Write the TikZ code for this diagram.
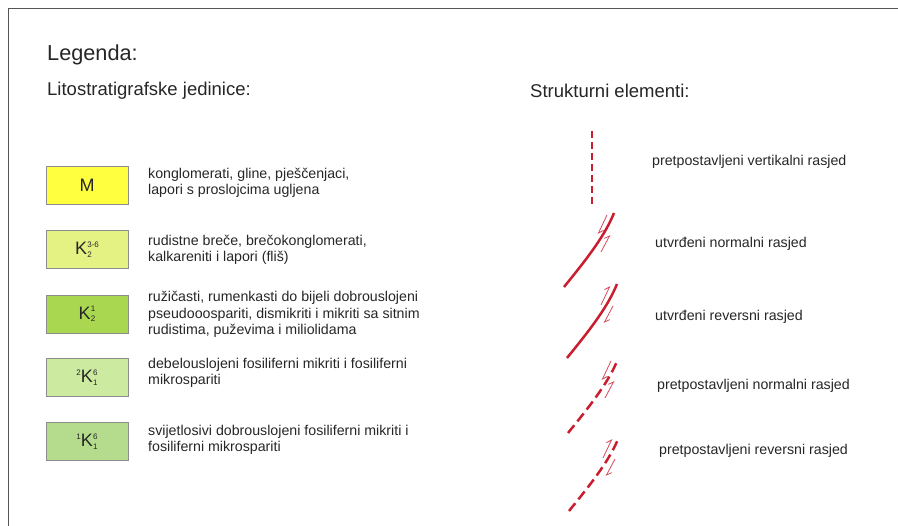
\documentclass[tikz,border=0pt]{standalone}
\usepackage{fontspec}
\setmainfont{Liberation Sans}
\usetikzlibrary{arrows.meta}
\definecolor{rasjedred}{RGB}{200,30,48}
\definecolor{okvir}{RGB}{85,85,85}
\definecolor{boxM}{RGB}{255,255,64}
\definecolor{boxKa}{RGB}{228,242,132}
\definecolor{boxKb}{RGB}{170,215,80}
\definecolor{boxKc}{RGB}{204,234,160}
\definecolor{boxKd}{RGB}{180,220,140}
% oznaka jedinice: lijevi indeks, K, gornji i donji indeks
\newcommand{\jedinica}[3]{%
  {\fontsize{8}{8}\selectfont\raisebox{7pt}{#1}}K\kern0.3pt%
  {\fontsize{8}{8}\selectfont\rlap{\raisebox{-2.5pt}{#3}}\raisebox{7.2pt}{#2}}}
% simbol rasjeda: #1 donja tocka, #2 stil linije, #3 i #4 smjer strelica
\newcommand{\rasjed}[4]{%
  \begin{scope}[shift={#1}]
    \draw[rasjed,#2] (0,0) .. controls (26,-32) and (41,-52) .. (50,-74);
    \draw[strelica,#3] (43,-72) -- (34,-53);
    \draw[strelica,#4] (46,-52) -- (37,-35);
  \end{scope}}

\begin{document}
\begin{tikzpicture}[x=1pt,y=-1pt,
    naslov/.style={anchor=base west,inner sep=0pt,font=\fontsize{21.7}{24}\selectfont,text=black!85},
    podnaslov/.style={anchor=base west,inner sep=0pt,font=\fontsize{18.5}{21}\selectfont,text=black!85},
    tekst/.style={anchor=base west,inner sep=0pt,font=\fontsize{14.2}{16.8}\selectfont,align=left,text=black!85},
    jed/.style={draw=black!45,line width=0.6pt,minimum width=82pt,minimum height=38pt,inner sep=0pt,font=\fontsize{18}{20}\selectfont,text=black!85},
    rasjed/.style={draw=rasjedred,line width=2.5pt},
    strelica/.style={draw=rasjedred!80,line width=0.8pt,>={Straight Barb[harpoon,length=4.5pt,width=7pt]}}]
  \useasboundingbox (0,0) rectangle (898,526);
  \draw[okvir,line width=1.5pt] (898,8.5) -- (8.5,8.5) -- (8.5,526);

  \node[naslov] (legenda) at (47,61) {Legenda:};
  \node[podnaslov] (lito) at (47,96) {Litostratigrafske jedinice:};
  \node[podnaslov] (struk) at (530,98) {Strukturni elementi:};

  % litostratigrafske jedinice
  \node[jed,fill=boxM] (M) at (87,185) {M};
  \node[jed,fill=boxKa] (K36) at (87,249.5) {\jedinica{}{3-6}{2}};
  \node[jed,fill=boxKb] (K1) at (87,314) {\jedinica{}{1}{2}};
  \node[jed,fill=boxKc] (K6b) at (87,377.5) {\jedinica{2}{6}{1}};
  \node[jed,fill=boxKd] (K6a) at (87,441.5) {\jedinica{1}{6}{1}};

  \node[tekst] (tM) at (148,195) {konglomerati, gline, pješčenjaci,\\lapori s proslojcima ugljena};
  \node[tekst] (tK36) at (148,262) {rudistne breče, brečokonglomerati,\\kalkareniti i lapori (fliš)};
  \node[tekst] (tK1) at (148,335) {ružičasti, rumenkasti do bijeli dobrouslojeni\\pseudooospariti, dismikriti i mikriti sa sitnim\\rudistima, puževima i miliolidama};
  \node[tekst] (tK6b) at (148,385) {debelouslojeni fosiliferni mikriti i fosiliferni\\mikrospariti};
  \node[tekst] (tK6a) at (148,452) {svijetlosivi dobrouslojeni fosiliferni mikriti i\\fosiliferni mikrospariti};

  % strukturni elementi
  \draw[rasjed,dash pattern=on 7.5pt off 3.5pt] (592,131) -- (592,205);
  \rasjed{(564,287)}{}{->}{<-}
  \rasjed{(567,358)}{}{<-}{->}
  \rasjed{(568,433)}{dash pattern=on 10pt off 5pt}{->}{<-}
  \rasjed{(569,511)}{dash pattern=on 10pt off 5pt}{<-}{->}

  \node[tekst] (r1) at (652,166) {pretpostavljeni vertikalni rasjed};
  \node[tekst] (r2) at (655,248) {utvrđeni normalni rasjed};
  \node[tekst] (r3) at (655,321) {utvrđeni reversni rasjed};
  \node[tekst] (r4) at (657,390) {pretpostavljeni normalni rasjed};
  \node[tekst] (r5) at (659,455) {pretpostavljeni reversni rasjed};
\end{tikzpicture}
\end{document}
